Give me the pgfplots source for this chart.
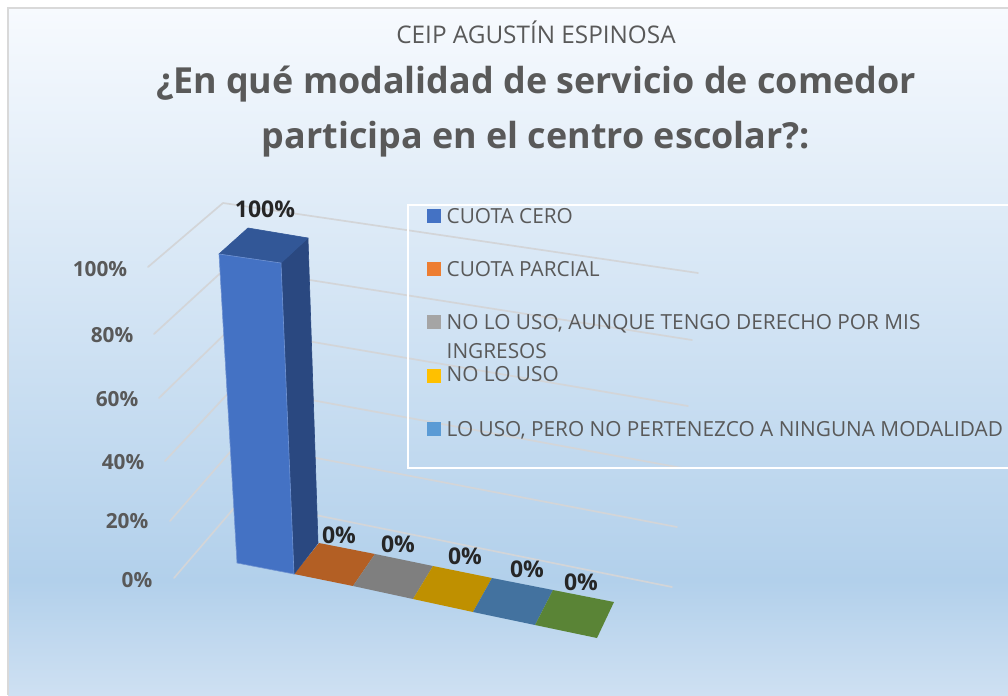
\documentclass[border=0pt]{standalone}
\usepackage{fontspec}
\setmainfont{Open Sans}
\usepackage{pgfplots}
\pgfplotsset{compat=1.18}
\definecolor{bgA}{HTML}{CEE0F2}
\definecolor{bgB}{HTML}{B2D0EB}
\definecolor{bgC}{HTML}{F7FAFE}
\definecolor{txt}{HTML}{595959}
\definecolor{lbl}{HTML}{262626}
\definecolor{grid}{HTML}{D3D5D8}
\definecolor{cframe}{HTML}{D9D9D9}
\definecolor{corange}{HTML}{B35F24}
\definecolor{cgray}{HTML}{7F7F7F}
\definecolor{cyellow}{HTML}{BF9000}
\definecolor{cblue}{HTML}{43729F}
\definecolor{cgreen}{HTML}{5A8436}
\definecolor{cside}{HTML}{2A4880}
\definecolor{ctop}{HTML}{325797}
\definecolor{cfront}{HTML}{4472C4}
\definecolor{cedge}{HTML}{6F92D2}
\definecolor{lorange}{HTML}{ED7D31}
\definecolor{lgray}{HTML}{A5A5A5}
\definecolor{lyellow}{HTML}{FFC000}
\definecolor{lblue}{HTML}{5B9BD5}
\pgfdeclareverticalshading{bgshade}{100bp}{color(0bp)=(bgA); color(25bp)=(bgA); color(33.35bp)=(bgB); color(75bp)=(bgC); color(100bp)=(bgC)}
\begin{document}
\begin{tikzpicture}
\begin{axis}[
  scale only axis, width=1008bp, height=695bp,
  xmin=0, xmax=1008, ymin=0, ymax=695, y dir=reverse, hide axis,
  grid line/.style={draw=grid, line width=1.7bp, line cap=round, line join=round},
  face/.style={draw=none, fill=#1},
  bar/.style={draw=#1, line width=0.6bp, line join=round},
]
\path[fill=white] (axis cs:0,0) rectangle (axis cs:1008,695);
\path[shading=bgshade] (axis cs:8,8) rectangle (axis cs:1008,695);
\addplot[draw=cframe, line width=1.5bp] coordinates {(8,695) (8,8) (1008,8)};

% gridlines: left wall, back wall
\addplot[grid line] coordinates {(174,578) (241,500) (672,587)};
\addplot[grid line] coordinates {(170,521) (238,443) (677,527)};
\addplot[grid line] coordinates {(165,461) (235,386) (682,468)};
\addplot[grid line] coordinates {(159,398) (231,328) (688,406)};
\addplot[grid line] coordinates {(154,334) (227,267) (692,340)};
\addplot[grid line] coordinates {(148,267) (223,203) (698,273)};

% floor segments of the 0 % categories
\addplot[face=corange] coordinates {(294,574) (319,543) (375,554) (353,586)} -- cycle;
\addplot[face=cgray] coordinates {(353,586) (375,554) (433,566) (413,599)} -- cycle;
\addplot[face=cyellow] coordinates {(413,599) (433,566) (492,578) (473,612)} -- cycle;
\addplot[face=cblue] coordinates {(473,612) (492,578) (553,590) (535,625)} -- cycle;
\addplot[face=cgreen] coordinates {(535,625) (553,590) (614,602) (597,638)} -- cycle;

% 100 % bar
\addplot[fill=cside, bar=cside] coordinates {(281,263) (308,238) (318,543) (294,574)} -- cycle;
\addplot[fill=ctop, bar=ctop] coordinates {(219,254) (248,228) (308,238) (281,263)} -- cycle;
\addplot[fill=cfront, bar=cedge] coordinates {(219,254) (281,263) (294,574) (237,563)} -- cycle;

% legend
\addplot[draw=white, line width=1.5bp] coordinates {(1010,205) (408,205) (408,468) (1010,468)};
\addplot[face=cfront] coordinates {(427,209) (441,209) (441,223) (427,223)} -- cycle;
\addplot[face=lorange] coordinates {(427,262) (441,262) (441,276) (427,276)} -- cycle;
\addplot[face=lgray] coordinates {(427,315) (441,315) (441,329) (427,329)} -- cycle;
\addplot[face=lyellow] coordinates {(427,369) (441,369) (441,383) (427,383)} -- cycle;
\addplot[face=lblue] coordinates {(427,422) (441,422) (441,436) (427,436)} -- cycle;

\begin{scope}[every node/.style={font=\fontsize{20.8bp}{23bp}\selectfont, text=txt, anchor=base west, inner sep=0pt}]
\node at (axis cs:446.5,223) {CUOTA CERO};
\node at (axis cs:446.5,276) {CUOTA PARCIAL};
\node at (axis cs:446.5,329) {NO LO USO, AUNQUE TENGO DERECHO POR MIS};
\node at (axis cs:446.5,358) {INGRESOS};
\node at (axis cs:446.5,381) {NO LO USO};
\node at (axis cs:446.5,436) {LO USO, PERO NO PERTENEZCO A NINGUNA MODALIDAD};
\end{scope}

% titles
\node[font=\fontsize{24.3bp}{28bp}\selectfont, text=txt, inner sep=0pt, anchor=base] at (axis cs:536,44) {CEIP AGUSTÍN ESPINOSA};
\node[font=\fontsize{35.9bp}{40bp}\selectfont\bfseries, text=txt, inner sep=0pt, anchor=base] at (axis cs:536,94) {¿En qué modalidad de servicio de comedor};
\node[font=\fontsize{35.9bp}{40bp}\selectfont\bfseries, text=txt, inner sep=0pt, anchor=base] at (axis cs:536,148) {participa en el centro escolar?:};

% value axis labels
\begin{scope}[every node/.style={font=\fontsize{20.8bp}{24bp}\selectfont\bfseries, text=txt, inner sep=0pt, anchor=base}]
\node at (axis cs:100,276) {100\%};
\node at (axis cs:112,342) {80\%};
\node at (axis cs:117,406) {60\%};
\node at (axis cs:123,469) {40\%};
\node at (axis cs:127,528) {20\%};
\node at (axis cs:137,587) {0\%};
\end{scope}

% data labels
\begin{scope}[every node/.style={font=\fontsize{23bp}{26bp}\selectfont\bfseries, text=lbl, inner sep=0pt, anchor=base}]
\node at (axis cs:265,217) {100\%};
\node at (axis cs:339,543) {0\%};
\node at (axis cs:398,552) {0\%};
\node at (axis cs:465,564) {0\%};
\node at (axis cs:527,577) {0\%};
\node at (axis cs:581,590) {0\%};
\end{scope}
\end{axis}
\end{tikzpicture}
\end{document}
